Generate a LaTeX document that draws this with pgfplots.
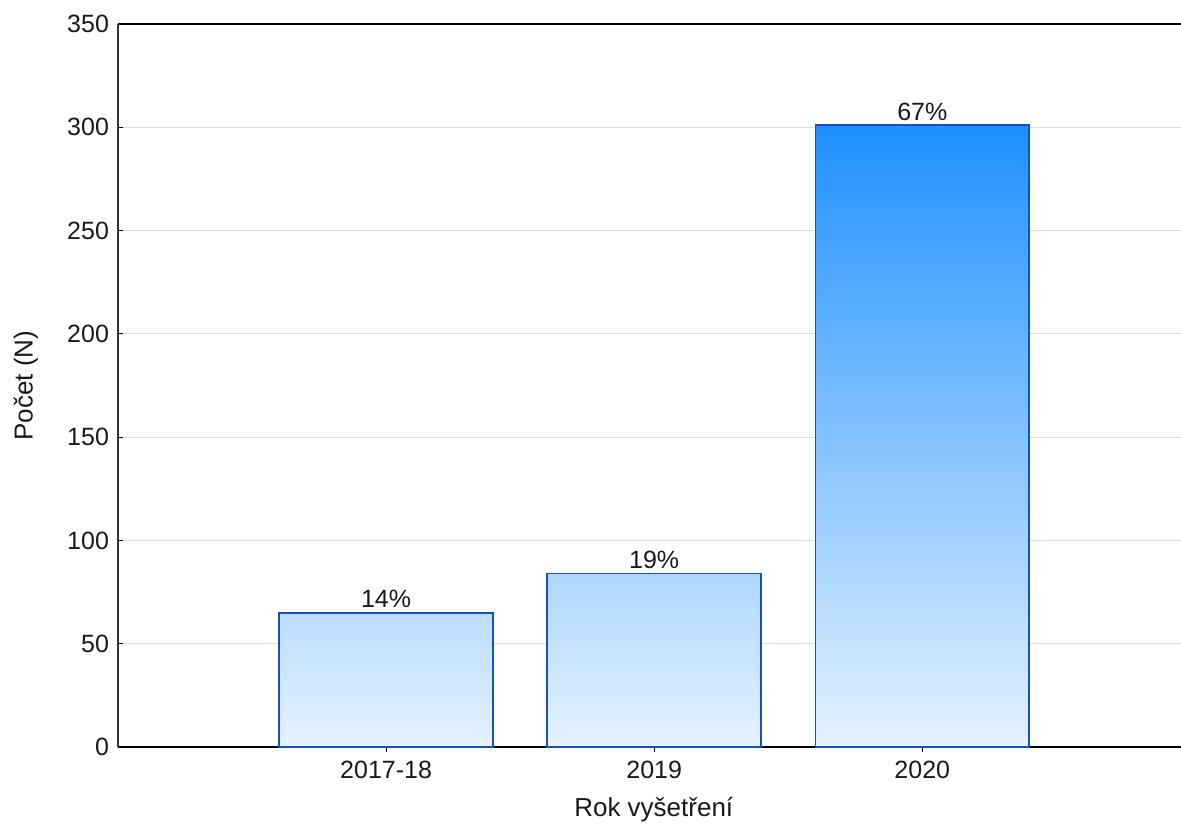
\documentclass[border=0pt]{standalone}
\usepackage{pgfplots}
\pgfplotsset{compat=1.18}
\usepackage{fontspec}
\setmainfont{Liberation Sans}
\definecolor{barlo}{HTML}{E6F2FF}
\definecolor{barhi}{HTML}{1E90FF}
\definecolor{baredge}{HTML}{1450C8}
\definecolor{gridc}{HTML}{DCDCDC}
\begin{document}
\begin{tikzpicture}
\begin{axis}[
  at={(0,0)}, anchor=south west,
  scale only axis,
  width=531.5pt, height=361.5pt,
  xmin=-1, xmax=2.965,
  ymin=0, ymax=350,
  axis x line*=box,
  axis y line*=left,
  x axis line style={-, line width=0.9pt, black},
  y axis line style={-, line width=0.6pt, black!80},
  xtick={0,1,2},
  xticklabels={2017-18,2019,2020},
  ytick={0,50,...,350},
  xtick pos=bottom,
  tick align=inside,
  major tick length=2.5pt,
  tick style={black, line width=0.6pt},
  ymajorgrids,
  major grid style={gridc, line width=0.5pt},
  /pgf/number format/assume math mode=true,
  ticklabel style={font=\fontsize{12.5}{14}\selectfont, text=black!90},
  xticklabel style={yshift=-1pt},
  yticklabel style={xshift=-1pt},
  xlabel={Rok vyšetření},
  ylabel={Počet (N)},
  every axis x label/.style={at={(axis description cs:0.504,-0.0871)}, anchor=center, font=\fontsize{13}{15}\selectfont, text=black!90},
  every axis y label/.style={at={(axis description cs:-0.0866,0.5)}, rotate=90, anchor=center, font=\fontsize{13}{15}\selectfont, text=black!90},
  ybar, bar width=0.797, bar shift=0pt,
  nodes near coords style={font=\fontsize{12.5}{14}\selectfont, text=black!90, inner sep=2pt},
]
\addplot[draw=baredge, line width=0.9pt, top color=barhi!21.5!barlo, bottom color=barlo,
  bar shift=0pt, nodes near coords={14\%}] coordinates {(0,65)};
\addplot[draw=baredge, line width=0.9pt, top color=barhi!27.8!barlo, bottom color=barlo,
  bar shift=0pt, nodes near coords={19\%}] coordinates {(1,84)};
\addplot[draw=baredge, line width=0.9pt, top color=barhi, bottom color=barlo,
  bar shift=0pt, nodes near coords={67\%}] coordinates {(2,301)};
\end{axis}
\pgfresetboundingbox
\useasboundingbox (-59pt,-41pt) rectangle (531.5pt,373.5pt);
\end{tikzpicture}
\end{document}
